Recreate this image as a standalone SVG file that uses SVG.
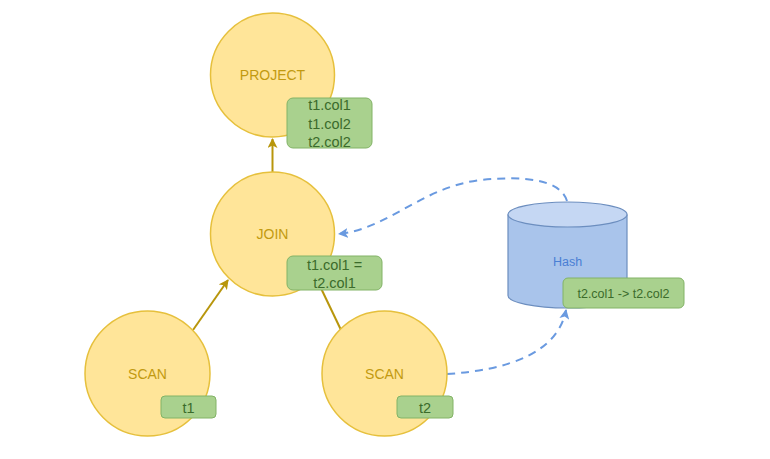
<svg xmlns="http://www.w3.org/2000/svg" width="770" height="459" viewBox="0 0 770 459">
<defs>
<style>
.op{fill:#ffe599;stroke:#e6c03c;stroke-width:1.5}
.opt{font-family:"Liberation Sans",Arial,sans-serif;font-size:14px;fill:#c29a10;text-anchor:middle;dominant-baseline:central}
.lb{fill:#a9d18e;stroke:#82b366;stroke-width:1}
.lbt{font-family:"Liberation Sans",Arial,sans-serif;font-size:14.5px;fill:#3b6b2b;text-anchor:middle;dominant-baseline:central}
.lbs{font-family:"Liberation Sans",Arial,sans-serif;font-size:12.5px;fill:#3b6b2b;text-anchor:middle;dominant-baseline:central}
.e{stroke:#b8960c;stroke-width:2;fill:none}
.d{stroke:#6a9ae0;stroke-width:2;fill:none;stroke-dasharray:8 6}
</style>
<marker id="ag" viewBox="0 0 10 10" refX="9" refY="5" markerWidth="5" markerHeight="5" orient="auto"><path d="M0,0 L10,5 L0,10 L2.5,5 Z" fill="#b8960c"/></marker>
<marker id="ab" viewBox="0 0 10 10" refX="9" refY="5" markerWidth="5" markerHeight="5" orient="auto"><path d="M0,0 L10,5 L0,10 L2.5,5 Z" fill="#6a9ae0"/></marker>
</defs>
<rect width="770" height="459" fill="#ffffff"/>
<g id="connectors">
<line class="e" x1="272.5" y1="172" x2="272.5" y2="139" marker-end="url(#ag)"/>
<line class="e" x1="193" y1="330" x2="228" y2="280" marker-end="url(#ag)"/>
<line class="e" x1="341" y1="330" x2="318" y2="282"/>
<path class="d" d="M567,201 C560,178 520,176 480,180 C420,188 390,228 339,234" marker-end="url(#ab)"/>
<path class="d" d="M447,374 C510,370 558,352 566,310" marker-end="url(#ab)"/>
</g>
<g id="project">
<circle class="op" cx="272.5" cy="75" r="62"/>
<text class="opt" x="272.5" y="75">PROJECT</text>
<rect class="lb" x="287" y="98" width="85" height="50" rx="6"/>
<text class="lbt" x="329.5" y="105">t1.col1</text>
<text class="lbt" x="329.5" y="123.5">t1.col2</text>
<text class="lbt" x="329.5" y="142">t2.col2</text>
</g>
<g id="join">
<circle class="op" cx="272.5" cy="234" r="62"/>
<text class="opt" x="272.5" y="234">JOIN</text>
<rect class="lb" x="287" y="256" width="95" height="34" rx="6"/>
<text class="lbt" x="334.5" y="265">t1.col1 =</text>
<text class="lbt" x="334.5" y="283">t2.col1</text>
</g>
<g id="scan1">
<circle class="op" cx="147.5" cy="373.5" r="62.5"/>
<text class="opt" x="147.5" y="374">SCAN</text>
<rect class="lb" x="161" y="396" width="55" height="22" rx="4"/>
<text class="lbt" x="188.5" y="407.5">t1</text>
</g>
<g id="scan2">
<circle class="op" cx="384.5" cy="373.5" r="62.5"/>
<text class="opt" x="384.5" y="374">SCAN</text>
<rect class="lb" x="397" y="396" width="56" height="22" rx="4"/>
<text class="lbt" x="425" y="407.5">t2</text>
</g>
<g id="hash">
<path d="M508,214.5 L508,295.5 A59.5,12.5 0 0 0 627,295.5 L627,214.5" fill="#a9c4eb" stroke="#6c8ebf" stroke-width="1.2"/>
<ellipse cx="567.5" cy="214.5" rx="59.5" ry="12.5" fill="#c5d7f3" stroke="#6c8ebf" stroke-width="1.2"/>
<text x="567.5" y="262" font-family="Liberation Sans, Arial, sans-serif" font-size="12.5" fill="#4a7fd4" text-anchor="middle" dominant-baseline="central">Hash</text>
<rect class="lb" x="563" y="278" width="121" height="30" rx="5"/>
<text class="lbs" x="623.5" y="293.5">t2.col1 -&gt; t2.col2</text>
</g>
</svg>
